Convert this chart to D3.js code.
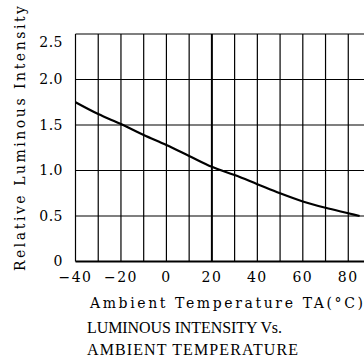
<!DOCTYPE html>
<html>
<head>
<meta charset="utf-8">
<script src="https://cdn.jsdelivr.net/npm/d3@7"></script>
<style>
  body { margin: 0; background: #fff; }
  text { font-family: "DejaVu Serif", "Liberation Serif", serif; fill: #000; }
</style>
</head>
<body>
<svg id="svg" width="364" height="360"></svg>
<script>
// curve
var temps = [-40, -30, -20, -10, 0, 10, 20, 30, 40, 50, 60, 70, 80, 85];
var intensity = [1.75, 1.62, 1.51, 1.39, 1.28, 1.16, 1.04, 0.95, 0.85, 0.75, 0.66, 0.59, 0.53, 0.5];

var xTicks = [-40, -20, 0, 20, 40, 60, 80];
var xGrid = [-30, -20, -10, 0, 10, 20, 30, 40, 50, 60, 70, 80, 90];
var yTicks = [0, 0.5, 1.0, 1.5, 2.0, 2.5];
var yLabels = ["0", "0.5", "1.0", "1.5", "2.0", "2.5"];

var xTitle = "Ambient Temperature TA(\u00b0C)";
var yTitle = "Relative Luminous Intensity";
var caption = ["LUMINOUS INTENSITY Vs.", "AMBIENT TEMPERATURE"];
var captionLen = [195, 211];

var svg = d3.select("#svg");

var xScale = d3.scaleLinear().domain([-40, 90]).range([75.5, 371]);
var yScale = d3.scaleLinear().domain([0, 2.5]).range([261.5, 34]);

// grid
svg.selectAll(".vgrid")
  .data(xGrid)
  .enter().append("line")
  .attr("x1", function (d) { return xScale(d); })
  .attr("x2", function (d) { return xScale(d); })
  .attr("y1", yScale(2.5))
  .attr("y2", yScale(0))
  .attr("stroke", "#000")
  .attr("stroke-width", function (d) { return d == 20 ? 2 : 1.2; });

svg.selectAll(".hgrid")
  .data(yTicks)
  .enter().append("line")
  .attr("x1", xScale(-40))
  .attr("x2", xScale(90))
  .attr("y1", function (d) { return yScale(d); })
  .attr("y2", function (d) { return yScale(d); })
  .attr("stroke", "#000")
  .attr("stroke-width", function (d) { return d == 0 ? 2 : 1.2; });

// left frame
svg.append("line")
  .attr("x1", xScale(-40)).attr("x2", xScale(-40))
  .attr("y1", yScale(2.5)).attr("y2", yScale(0))
  .attr("stroke", "#000").attr("stroke-width", 1.2);

// tick labels
svg.selectAll(".ylab")
  .data(yTicks)
  .enter().append("text")
  .attr("x", 63)
  .attr("y", function (d) { return yScale(d) + (d == 2.5 ? 8 : 0); })
  .attr("dy", "0.35em")
  .attr("text-anchor", "end")
  .style("font-size", "14px")
  .style("letter-spacing", "0.5px")
  .text(function (d, i) { return yLabels[i]; });

svg.selectAll(".xlab")
  .data(xTicks)
  .enter().append("text")
  .attr("x", function (d) { return xScale(d); })
  .attr("y", 282)
  .attr("text-anchor", "middle")
  .style("font-size", "14px")
  .style("letter-spacing", "1.5px")
  .text(function (d) { return d < 0 ? "\u2212" + Math.abs(d) : d; });

// curve
var lineGenerator = d3.line()
  .x(function (d, i) { return xScale(temps[i]); })
  .y(function (d) { return yScale(d); })
  .curve(d3.curveMonotoneX);

svg.append("path")
  .attr("d", lineGenerator(intensity))
  .attr("fill", "none")
  .attr("stroke", "#000")
  .attr("stroke-width", 2.2);

// titles
svg.append("text")
  .attr("transform", "translate(25,271) rotate(-90)")
  .attr("textLength", 265)
  .attr("lengthAdjust", "spacing")
  .style("font-size", "14px")
  .text(yTitle);

svg.append("text")
  .attr("x", 90)
  .attr("y", 308)
  .attr("textLength", 273)
  .attr("lengthAdjust", "spacing")
  .style("font-size", "14px")
  .text(xTitle);

svg.selectAll(".cap")
  .data(caption)
  .enter().append("text")
  .attr("x", 87)
  .attr("y", function (d, i) { return 333 + i * 22; })
  .attr("textLength", function (d, i) { return captionLen[i]; })
  .attr("lengthAdjust", "spacing")
  .style("font-family", "'Liberation Serif', serif")
  .style("font-size", "16px")
  .text(function (d) { return d; });
</script>
</body>
</html>
